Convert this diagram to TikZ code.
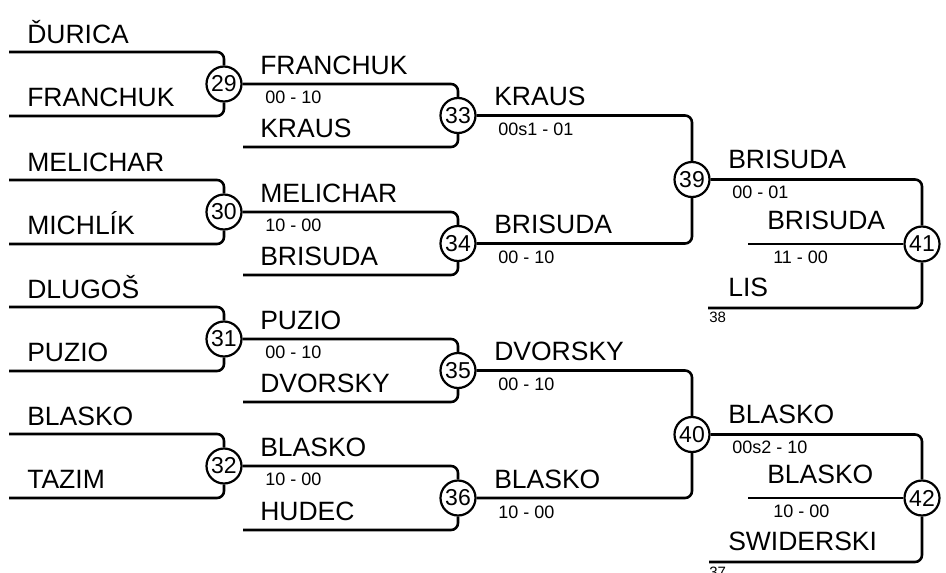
\documentclass[tikz,border=0pt]{standalone}
\usepackage{fontspec}
\setmainfont{Liberation Sans}

\begin{document}
\begin{tikzpicture}[x=1pt, y=-1pt, line width=2.6pt,
    game/.style={circle, draw, line width=2.2pt, minimum size=35pt,
      inner sep=0pt, font=\fontsize{23}{23}\selectfont},
    bracket/.style={rounded corners=7pt},
    player/.style={anchor=base west, inner sep=0pt,
      font=\fontsize{26.5}{26.5}\selectfont},
    score/.style={anchor=base west, inner sep=0pt,
      font=\fontsize{18}{18}\selectfont},
    seed/.style={anchor=base west, inner sep=0pt,
      font=\fontsize{15}{15}\selectfont}]
    \useasboundingbox (0, 0) rectangle (946, 573);

    % games
    \node[game] at (224, 84) (g29) {29};
    \node[game] at (224, 212) (g30) {30};
    \node[game] at (224, 339) (g31) {31};
    \node[game] at (224, 466) (g32) {32};
    \node[game] at (458, 115.5) (g33) {33};
    \node[game] at (458, 243.5) (g34) {34};
    \node[game] at (458, 370.5) (g35) {35};
    \node[game] at (458, 498) (g36) {36};
    \node[game] at (692, 179.5) (g39) {39};
    \node[game] at (692, 434.5) (g40) {40};
    \node[game] at (922, 244) (g41) {41};
    \node[game] at (922, 498) (g42) {42};

    % free line ends
    \coordinate (e1) at (9, 52);
    \coordinate (e2) at (9, 116);
    \coordinate (e3) at (9, 180);
    \coordinate (e4) at (9, 244);
    \coordinate (e5) at (9, 307);
    \coordinate (e6) at (9, 371);
    \coordinate (e7) at (9, 434);
    \coordinate (e8) at (9, 498);
    \coordinate (e33) at (243, 147);
    \coordinate (e34) at (243, 275);
    \coordinate (e35) at (243, 402);
    \coordinate (e36) at (243, 530);
    \coordinate (m41) at (748, 244);
    \coordinate (b41) at (708, 308);
    \coordinate (m42) at (748, 498);
    \coordinate (b42) at (709, 562);

    % lines
    \draw[bracket] (e1) -| (g29);
    \draw[bracket] (e2) -| (g29);
    \draw[bracket] (e3) -| (g30);
    \draw[bracket] (e4) -| (g30);
    \draw[bracket] (e5) -| (g31);
    \draw[bracket] (e6) -| (g31);
    \draw[bracket] (e7) -| (g32);
    \draw[bracket] (e8) -| (g32);
    \draw[bracket] (g29) -| (g33);
    \draw[bracket] (e33) -| (g33);
    \draw[bracket] (g30) -| (g34);
    \draw[bracket] (e34) -| (g34);
    \draw[bracket] (g31) -| (g35);
    \draw[bracket] (e35) -| (g35);
    \draw[bracket] (g32) -| (g36);
    \draw[bracket] (e36) -| (g36);
    \draw[bracket] (g33) -| (g39);
    \draw[bracket] (g34) -| (g39);
    \draw[bracket] (g35) -| (g40);
    \draw[bracket] (g36) -| (g40);
    \draw[bracket] (g39) -| (g41);
    \draw (m41) -- (g41);
    \draw[bracket] (b41) -| (g41);
    \draw[bracket] (g40) -| (g42);
    \draw (m42) -- (g42);
    \draw[bracket] (b42) -| (g42);

    % first round
    \node[player] at (26, 43) (durica) {ĎURICA};
    \node[player] at (26, 106) (franchuk) {FRANCHUK};
    \node[player] at (26, 171) (melichar) {MELICHAR};
    \node[player] at (26, 234) (michlik) {MICHLÍK};
    \node[player] at (26, 298) (dlugos) {DLUGOŠ};
    \node[player] at (26, 361) (puzio) {PUZIO};
    \node[player] at (26, 425) (blasko) {BLASKO};
    \node[player] at (26, 488) (tazim) {TAZIM};

    % second round
    \node[player] at (259, 74) (w29) {FRANCHUK};
    \node[score] at (264, 103) (s29) {00 - 10};
    \node[player] at (259, 137) (kraus) {KRAUS};
    \node[player] at (259, 202) (w30) {MELICHAR};
    \node[score] at (264, 231) (s30) {10 - 00};
    \node[player] at (259, 265) (brisuda) {BRISUDA};
    \node[player] at (259, 329) (w31) {PUZIO};
    \node[score] at (264, 358) (s31) {00 - 10};
    \node[player] at (259, 392) (dvorsky) {DVORSKY};
    \node[player] at (259, 456) (w32) {BLASKO};
    \node[score] at (264, 485) (s32) {10 - 00};
    \node[player] at (259, 520) (hudec) {HUDEC};

    % third round
    \node[player] at (493, 105) (w33) {KRAUS};
    \node[score] at (497, 135) (s33) {00s1 - 01};
    \node[player] at (493, 233) (w34) {BRISUDA};
    \node[score] at (497, 263) (s34) {00 - 10};
    \node[player] at (493, 360) (w35) {DVORSKY};
    \node[score] at (497, 390) (s35) {00 - 10};
    \node[player] at (493, 488) (w36) {BLASKO};
    \node[score] at (497, 518) (s36) {10 - 00};

    % last round
    \node[player] at (727, 168) (w39) {BRISUDA};
    \node[score] at (731, 198) (s39) {00 - 01};
    \node[player] at (766, 229) (w41) {BRISUDA};
    \node[score] at (772, 263) (s41) {11 - 00};
    \node[player] at (727, 296) (lis) {LIS};
    \node[seed] at (708, 322) (from38) {38};
    \node[player] at (727, 423) (w40) {BLASKO};
    \node[score] at (731, 453) (s40) {00s2 - 10};
    \node[player] at (766, 483) (w42) {BLASKO};
    \node[score] at (772, 517) (s42) {10 - 00};
    \node[player] at (727, 550) (swiderski) {SWIDERSKI};
    \node[seed] at (708, 577) (from37) {37};
  \end{tikzpicture}
\end{document}
